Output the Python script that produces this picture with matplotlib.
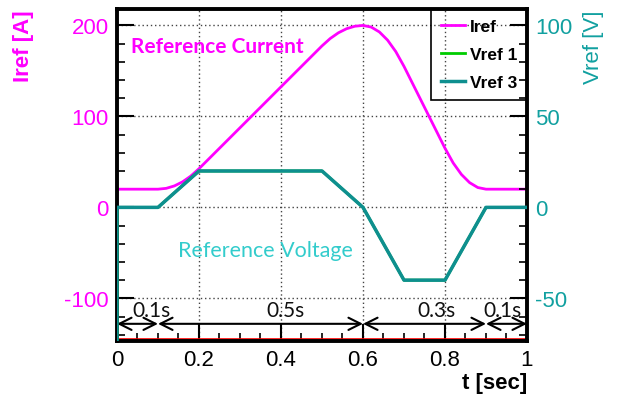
"""reference current and voltage profiles of the ramp cycle"""

import matplotlib.pyplot as plt
from matplotlib.ticker import MultipleLocator

plt.rcParams['axes.unicode_minus'] = False

MAGENTA = '#ff00ff'
TEAL = '#0e8f8f'
TEAL_TEXT = '#11a0a0'
TEAL_NOTE = '#33cccc'

# current reference [A] versus time [s]
IREF_T = [0.0, 0.0, 0.10, 0.12, 0.14, 0.16, 0.18, 0.20, 0.50, 0.52, 0.54,
          0.56, 0.58, 0.60, 0.62, 0.64, 0.66, 0.68, 0.70, 0.80, 0.82, 0.84,
          0.86, 0.88, 0.90, 1.00]
IREF_A = [0.0, 20.0, 20.0, 20.9, 23.6, 28.1, 34.4, 42.5, 177.5, 185.6, 191.9,
          196.4, 199.1, 200.0, 198.2, 192.8, 183.8, 171.2, 155.0, 65.0, 48.8,
          36.2, 27.2, 21.8, 20.0, 20.0]

# voltage references [V] versus time [s]
VREF_T = [0.0, 0.0, 0.10, 0.20, 0.50, 0.57, 0.60, 0.70, 0.80, 0.90, 1.00]
VREF_V = [-100.0, 0.0, 0.0, 20.0, 20.0, 6.0, 0.0, -40.0, -40.0, 0.0, 0.0]

# phase durations drawn as arrows below the curves
PHASE_EDGES = [0.0, 0.1, 0.6, 0.9, 1.0]
PHASE_LABELS = ['0.1s', '0.5s', '0.3s', '0.1s']
PHASE_LABEL_X = [0.085, 0.41, 0.78, 0.94]

I_LIM = (-147, 218)

fig = plt.figure(figsize=(6.2, 4.02), dpi=100)
ax = fig.add_axes([0.1887, 0.149, 0.6613, 0.826])
ax2 = ax.twinx()

ax.set_xlim(0, 1)
ax.set_ylim(*I_LIM)
ax2.set_ylim(I_LIM[0] / 2, I_LIM[1] / 2)

# grid at the major ticks of both axes
for x in [0.2, 0.4, 0.6, 0.8]:
    ax.axvline(x, color='#444444', linestyle=(0, (1, 2)), linewidth=1, zorder=1)
for y in [200, 100, 0, -100]:
    ax.axhline(y, color='#444444', linestyle=(0, (1, 2)), linewidth=1, zorder=1)

iref_line, = ax.plot(IREF_T, IREF_A, color=MAGENTA, linewidth=2, zorder=4,
                     label='Iref')
ax2.plot(VREF_T, VREF_V, color='#00cc00', linewidth=2, zorder=3,
         label='Vref 1')
ax2.plot(VREF_T, VREF_V, color=TEAL, linewidth=2.5, zorder=4, label='Vref 3')

# red outline along the lower and right edges
ax.plot([0, 1, 1], [I_LIM[0] + 2, I_LIM[0] + 2, I_LIM[1]], color='red',
        linewidth=1.2, zorder=5, clip_on=False)

for spine in ax.spines.values():
    spine.set_linewidth(2.8)
    spine.set_zorder(6)
for spine in ax2.spines.values():
    spine.set_visible(False)

ax.xaxis.set_major_locator(MultipleLocator(0.2))
ax.xaxis.set_minor_locator(MultipleLocator(0.05))
ax.yaxis.set_major_locator(MultipleLocator(100))
ax.yaxis.set_minor_locator(MultipleLocator(20))
ax2.yaxis.set_major_locator(MultipleLocator(50))
ax2.yaxis.set_minor_locator(MultipleLocator(10))

ax.set_xticks([0, 0.2, 0.4, 0.6, 0.8, 1.0])
ax.set_xticklabels(['0', '0.2', '0.4', '0.6', '0.8', '1'])

ax.tick_params(axis='x', which='major', direction='in', length=12, width=1.5,
               labelsize=16, pad=6, top=False)
ax.tick_params(axis='x', which='minor', direction='in', length=6, width=1.2,
               top=False)
ax.tick_params(axis='y', which='major', direction='in', length=12, width=1.5,
               labelsize=16, labelcolor=MAGENTA, pad=6)
ax.tick_params(axis='y', which='minor', direction='in', length=6, width=1.2)
ax2.tick_params(axis='y', which='major', direction='in', length=12, width=1.5,
                labelsize=16, labelcolor=TEAL_TEXT, pad=6)
ax2.tick_params(axis='y', which='minor', direction='in', length=6, width=1.2)
for lab in ax.get_xticklabels() + ax.get_yticklabels() + ax2.get_yticklabels():
    lab.set_fontfamily('Liberation Sans')

fig.text(0.038, 0.975, 'Iref [A]', rotation=90, ha='center', va='top',
         color=MAGENTA, fontsize=16, fontweight='bold',
         family='Liberation Sans')
fig.text(0.958, 0.975, 'Vref [V]', rotation=90, ha='center', va='top',
         color=TEAL_TEXT, fontsize=16, family='Liberation Sans')
fig.text(0.85, 0.045, 't [sec]', ha='right', va='center', color='black',
         fontsize=16, fontweight='bold', family='Liberation Sans')

ax.text(0.035, 177, 'Reference Current', color=MAGENTA, fontsize=15,
        fontweight='bold', family='Lato', ha='left', va='center', zorder=7)
ax.text(0.15, -47, 'Reference Voltage', color=TEAL_NOTE, fontsize=15.5,
        family='Lato', ha='left', va='center', zorder=7)

# phase arrows and their durations
for start, end in zip(PHASE_EDGES[:-1], PHASE_EDGES[1:]):
    ax.annotate('', xy=(end, -128), xytext=(start, -128),
                arrowprops=dict(arrowstyle='<->', color='black', lw=1.5,
                                shrinkA=0, shrinkB=0,
                                mutation_scale=22),
                zorder=7)
for x, text in zip(PHASE_LABEL_X, PHASE_LABELS):
    ax.text(x, -113, text, ha='center', va='center', fontsize=15,
            family='Lato', color='#111111', zorder=7)

handles = [iref_line] + ax2.get_lines()
leg = ax.legend(handles, [h.get_label() for h in handles],
                loc='upper right', bbox_to_anchor=(1.0, 1.0),
                frameon=True, fancybox=False, framealpha=1,
                edgecolor='black', handlelength=1.4, handletextpad=0.3,
                borderpad=0.55, labelspacing=0.75, borderaxespad=0,
                prop={'family': 'Liberation Sans', 'weight': 'bold',
                      'size': 12.5})
leg.get_frame().set_facecolor('none')
leg.get_frame().set_linewidth(1.2)
leg.set_zorder(8)

fig.savefig('out.png', dpi=100)
